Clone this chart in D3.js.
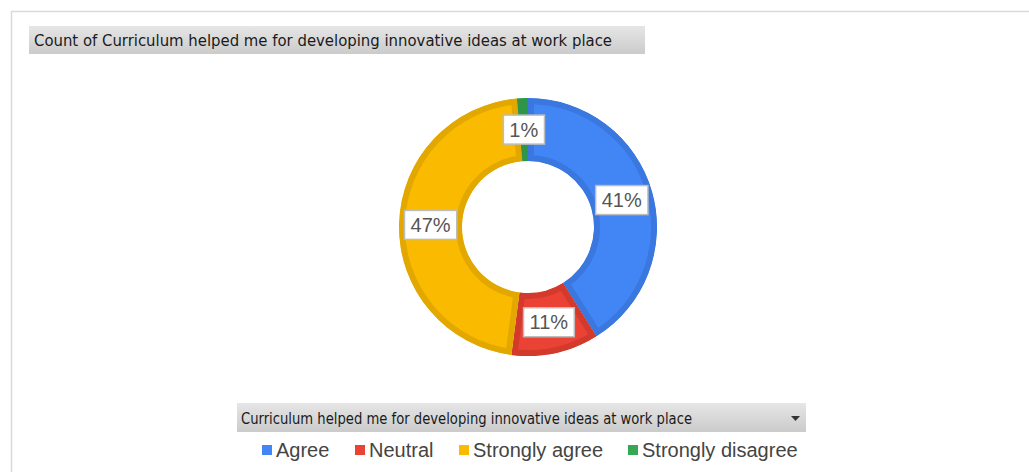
<!DOCTYPE html>
<html>
<head>
<meta charset="utf-8">
<script src="https://cdn.jsdelivr.net/npm/d3@7"></script>
<style>
  html, body { margin: 0; padding: 0; background: #fff; }
  svg { display: block; }
</style>
</head>
<body>
<div id="chart"></div>
<script>
const categories = ["Agree", "Neutral", "Strongly agree", "Strongly disagree"];
const counts = [30, 8, 34, 1];
const fillColours = ["#4285F4", "#EA4335", "#F9BA00", "#34A853"];
const edgeColours = ["#3A77DF", "#D33A2C", "#E3A800", "#2E9549"];
const chartTitle = "Count of Curriculum helped me for developing innovative ideas at work place";
const fieldName = "Curriculum helped me for developing innovative ideas at work place";

const width = 1029;
const height = 472;
const centre = { x: 528, y: 227 };
const outerR = 129;
const innerR = 66;

const svg = d3.select("#chart").append("svg")
    .attr("width", width)
    .attr("height", height)
    .attr("viewBox", [0, 0, width, height]);

const defs = svg.append("defs");
const grad = defs.append("linearGradient")
    .attr("id", "btnGrad")
    .attr("x1", 0).attr("y1", 0).attr("x2", 0).attr("y2", 1);
grad.append("stop").attr("offset", "0%").attr("stop-color", "#e6e6e6");
grad.append("stop").attr("offset", "100%").attr("stop-color", "#cbcbcb");

// outer frame
svg.append("path")
    .attr("d", `M11.5,${height} V11.5 H${width}`)
    .attr("fill", "none")
    .attr("stroke", "#d9d9d9")
    .attr("stroke-width", 1.5);

// title button
const titleG = svg.append("g").attr("transform", "translate(29, 26)");
titleG.append("rect")
    .attr("width", 616)
    .attr("height", 28)
    .attr("fill", "url(#btnGrad)");
titleG.append("text")
    .attr("x", 5)
    .attr("y", 20)
    .attr("font-family", "DejaVu Sans Condensed, DejaVu Sans, sans-serif")
    .attr("font-size", 16.5)
    .attr("fill", "#1a1a1a")
    .attr("textLength", 578)
    .attr("lengthAdjust", "spacingAndGlyphs")
    .text(chartTitle);

// donut
const data = categories.map((c, i) => ({ name: c, value: counts[i], i }));
const total = d3.sum(counts);

const pie = d3.pie()
    .sort(null)
    .value((d) => d.value);

const arc = d3.arc()
    .innerRadius(innerR)
    .outerRadius(outerR);

const labelArc = d3.arc()
    .innerRadius((innerR + outerR) / 2)
    .outerRadius((innerR + outerR) / 2);

const arcs = pie(data);
const g = svg.append("g").attr("transform", `translate(${centre.x}, ${centre.y})`);

defs.selectAll("clipPath")
    .data(arcs)
    .join("clipPath")
    .attr("id", (d) => `slice${d.data.i}`)
    .append("path")
    .attr("d", arc);

// fill with an inset darker edge (stroke clipped to the slice)
g.selectAll("path.slice")
    .data(arcs)
    .join("path")
    .attr("class", "slice")
    .attr("d", arc)
    .attr("clip-path", (d) => `url(#slice${d.data.i})`)
    .attr("fill", (d) => fillColours[d.data.i])
    .attr("stroke", (d) => edgeColours[d.data.i])
    .attr("stroke-width", 12);

const labels = g.selectAll("g.lbl")
    .data(arcs)
    .join("g")
    .attr("class", "lbl")
    .attr("transform", (d) => {
        const [x, y] = labelArc.centroid(d);
        return `translate(${x}, ${y})`;
    });

labels.append("text")
    .attr("text-anchor", "middle")
    .attr("dominant-baseline", "central")
    .attr("font-family", "Liberation Sans, Arial, sans-serif")
    .attr("font-size", 20)
    .attr("fill", "#555")
    .text((d) => d3.format(".0%")(d.data.value / total));

labels.each(function () {
    const grp = d3.select(this);
    const bb = grp.select("text").node().getBBox();
    grp.insert("rect", "text")
        .attr("x", bb.x - 6)
        .attr("y", -14.5)
        .attr("width", bb.width + 12)
        .attr("height", 29)
        .attr("fill", "#fff")
        .attr("stroke", "#bdbdbd")
        .attr("stroke-width", 1.5);
});

// field button
const fieldG = svg.append("g").attr("transform", "translate(237, 403)");
fieldG.append("rect")
    .attr("width", 569)
    .attr("height", 29)
    .attr("fill", "url(#btnGrad)");
fieldG.append("text")
    .attr("x", 4)
    .attr("y", 21)
    .attr("font-family", "DejaVu Sans Condensed, DejaVu Sans, sans-serif")
    .attr("font-size", 16.5)
    .attr("fill", "#1a1a1a")
    .attr("textLength", 451)
    .attr("lengthAdjust", "spacingAndGlyphs")
    .text(fieldName);
fieldG.append("path")
    .attr("d", "M554,13 h9 l-4.5,5 z")
    .attr("fill", "#333");

// legend
const legendX = d3.scaleOrdinal()
    .domain(categories)
    .range([262, 355, 459, 628]);

const legend = svg.append("g").attr("transform", "translate(0, 450)");
const items = legend.selectAll("g")
    .data(categories)
    .join("g")
    .attr("transform", (d) => `translate(${legendX(d)}, 0)`);

items.append("rect")
    .attr("x", 0)
    .attr("y", -5)
    .attr("width", 10)
    .attr("height", 10)
    .attr("fill", (d, i) => fillColours[i]);

items.append("text")
    .attr("x", 14)
    .attr("y", 0)
    .attr("dominant-baseline", "central")
    .attr("font-family", "Liberation Sans, Arial, sans-serif")
    .attr("font-size", 20)
    .attr("fill", "#444")
    .text((d) => d);
</script>
</body>
</html>
